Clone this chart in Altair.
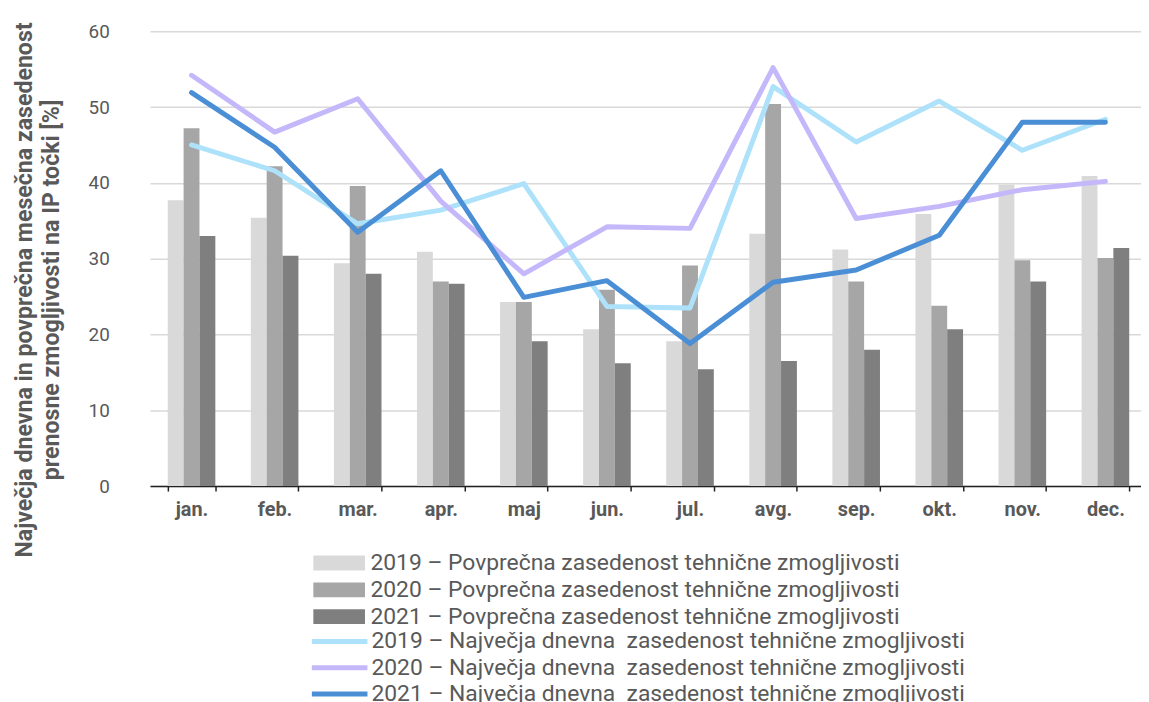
import altair as alt
import pandas as pd

months = ["jan.", "feb.", "mar.", "apr.", "maj", "jun.", "jul.", "avg.", "sep.", "okt.", "nov.", "dec."]

avg_2019 = [37.7, 35.4, 29.4, 30.9, 24.3, 20.7, 19.1, 33.3, 31.2, 35.9, 39.8, 40.9]
avg_2020 = [47.2, 42.2, 39.6, 27.0, 24.3, 25.9, 29.1, 50.4, 27.0, 23.8, 29.8, 30.1]
avg_2021 = [33.0, 30.4, 28.0, 26.7, 19.1, 16.2, 15.4, 16.5, 18.0, 20.7, 27.0, 31.4]

max_2019 = [45.0, 41.6, 34.6, 36.4, 39.9, 23.7, 23.5, 52.7, 45.4, 50.8, 44.3, 48.4]
max_2020 = [54.2, 46.7, 51.1, 37.6, 28.0, 34.2, 34.0, 55.2, 35.3, 36.9, 39.1, 40.2]
max_2021 = [51.9, 44.7, 33.5, 41.6, 24.9, 27.1, 18.8, 26.9, 28.5, 33.1, 48.0, 48.0]

bar_series = [
    "2019 – Povprečna zasedenost tehnične zmogljivosti",
    "2020 – Povprečna zasedenost tehnične zmogljivosti",
    "2021 – Povprečna zasedenost tehnične zmogljivosti",
]
line_series = [
    "2019 – Največja dnevna\u00a0 zasedenost tehnične zmogljivosti",
    "2020 – Največja dnevna\u00a0 zasedenost tehnične zmogljivosti",
    "2021 – Največja dnevna\u00a0 zasedenost tehnične zmogljivosti",
]
bar_colors = ["#d9d9d9", "#a6a6a6", "#7f7f7f"]
line_colors = ["#ade2fa", "#c4b8fa", "#4a8fd5"]

y_title = ["Največja dnevna in povprečna mesečna zasedenost",
           "prenosne zmogljivosti na IP točki [%]"]

bar_rows = []
for name, vals in zip(bar_series, [avg_2019, avg_2020, avg_2021]):
    for m, v in zip(months, vals):
        bar_rows.append({"month": m, "series": name, "value": v})
bars_df = pd.DataFrame(bar_rows)

line_rows = []
for name, vals in zip(line_series, [max_2019, max_2020, max_2021]):
    for i, (m, v) in enumerate(zip(months, vals)):
        line_rows.append({"month": m, "series": name, "value": v, "idx": i})
lines_df = pd.DataFrame(line_rows)

FONT = "Roboto"
GREY = "#595959"

x_enc = alt.X(
    "month:N", sort=months, title=None,
    scale=alt.Scale(paddingInner=0.427, paddingOuter=0.2135),
    axis=alt.Axis(
        labelFont=FONT, labelFontSize=20, labelFontWeight="bold", labelColor=GREY,
        labelAngle=0, labelPadding=9, tickBand="extent", tickSize=5,
        tickColor="#222222", tickWidth=1.5, domainColor="#222222", domainWidth=1.5,
        grid=False,
    ),
)
y_scale = alt.Scale(domain=[0, 60], nice=False)
y_axis = alt.Axis(
    values=[0, 10, 20, 30, 40, 50, 60], domain=False, ticks=False,
    labelFont=FONT, labelFontSize=19, labelColor=GREY, labelPadding=41,
    gridColor="#d9d9d9", gridWidth=1.5,
    title=y_title, titleFont=FONT, titleFontSize=23.3, titleFontWeight="bold",
    titleColor=GREY, titleAngle=270, titleAlign="center", titleBaseline="alphabetic",
    titleX=-119, titleY=260, titleLineHeight=27,
)

bar_path = "M-6.5,-1.875H6.5V1.875H-6.5Z"
line_path = "M-7,0H7"

bars = alt.Chart(bars_df).mark_bar().encode(
    x=x_enc,
    xOffset=alt.XOffset("series:N", sort=bar_series, scale=alt.Scale(paddingInner=0, paddingOuter=0)),
    y=alt.Y("value:Q", scale=y_scale, axis=y_axis),
    fill=alt.Fill(
        "series:N",
        scale=alt.Scale(domain=bar_series, range=bar_colors),
        legend=alt.Legend(
            title=None, orient="none", legendX=179, legendY=524, padding=0,
            symbolType=bar_path, symbolSize=64, symbolStrokeWidth=0,
            labelFont=FONT, labelFontSize=23, labelColor=GREY, labelLimit=0,
            labelOffset=20, rowPadding=3,
        ),
    ),
)

lines = alt.Chart(lines_df).mark_line(strokeWidth=5, strokeCap="round", strokeJoin="round").encode(
    x=alt.X("month:N", sort=months),
    y=alt.Y("value:Q", scale=y_scale),
    stroke=alt.Stroke(
        "series:N",
        scale=alt.Scale(domain=line_series, range=line_colors),
        legend=alt.Legend(
            title=None, orient="none", legendX=179.5, legendY=603, padding=0,
            symbolType=line_path, symbolSize=64, symbolStrokeWidth=5,
            labelFont=FONT, labelFontSize=23, labelColor=GREY, labelLimit=0,
            labelOffset=20.5, rowPadding=2.5,
        ),
    ),
    order=alt.Order("idx:Q"),
)

chart = alt.layer(bars, lines).properties(
    width=1004, height=458,
    autosize=alt.AutoSizeParams(type="none"),
    padding={"left": 143, "top": 21, "right": -6, "bottom": 215},
).configure_view(stroke=None).resolve_scale(fill="independent", stroke="independent")

chart.save("out.html", embed_options={"renderer": "svg", "actions": False})
